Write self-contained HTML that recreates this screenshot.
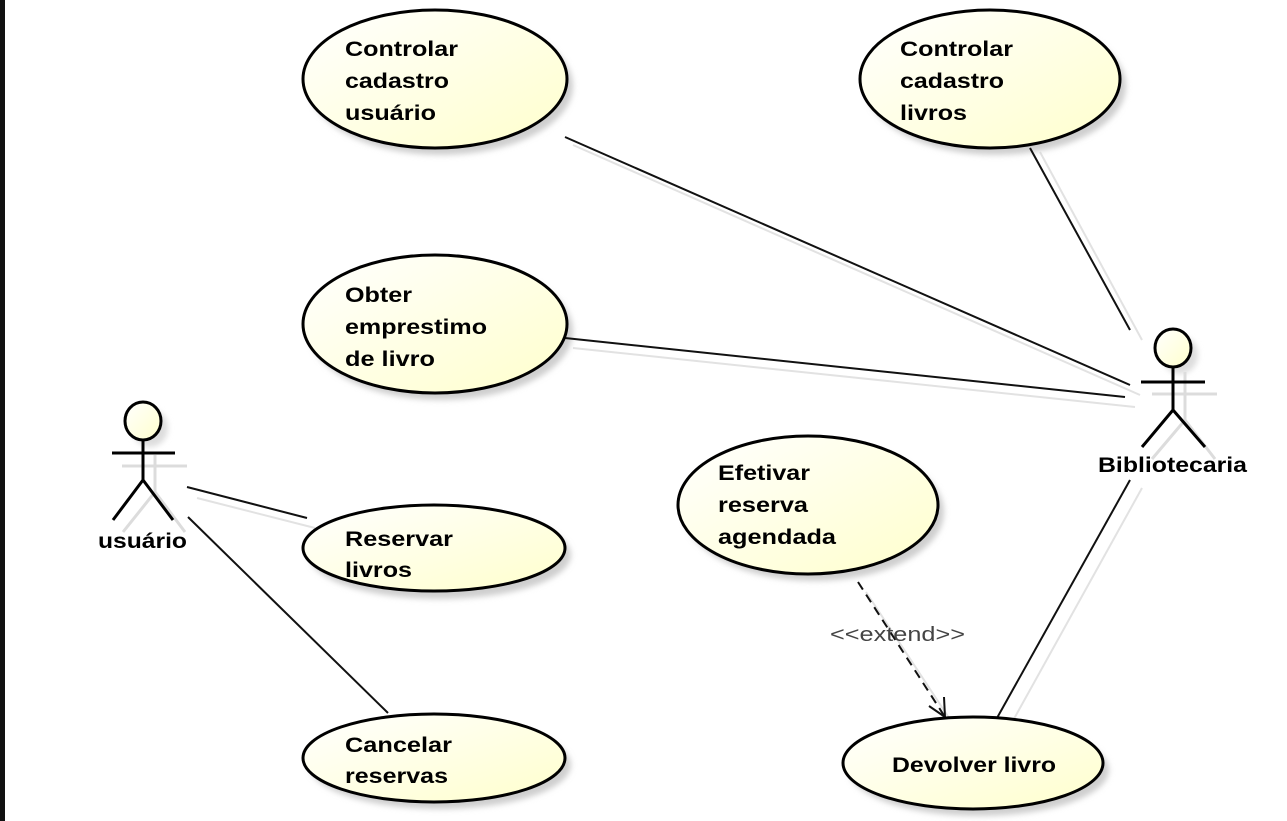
<!DOCTYPE html>
<html><head><meta charset="utf-8"><style>
html,body{margin:0;padding:0;background:#fff;}
svg{display:block;}
text{font-family:"Liberation Sans",Arial,sans-serif;}
</style></head><body>
<svg width="1287" height="821" viewBox="0 0 1287 821" xmlns="http://www.w3.org/2000/svg">
<defs>
<linearGradient id="g" x1="0" y1="0" x2="1" y2="1">
<stop offset="0" stop-color="#ffffff"/><stop offset="1" stop-color="#ffffcc"/>
</linearGradient>
<filter id="b" x="-20%" y="-20%" width="140%" height="140%"><feGaussianBlur stdDeviation="3"/></filter>
</defs>
<rect x="0" y="0" width="1287" height="821" fill="#fff"/>
<rect x="0" y="0" width="5" height="821" fill="#111"/>

<g stroke="#e2e2e2" stroke-width="2" fill="none">
<line x1="573" y1="145" x2="1140" y2="395"/>
<line x1="1040" y1="152" x2="1142" y2="340"/>
<line x1="573" y1="348" x2="1135" y2="407"/>
<line x1="197" y1="498" x2="315" y2="528"/>
<line x1="1142" y1="488" x2="1010" y2="726"/>
<line x1="866" y1="592" x2="955" y2="727"/>
</g>

<g fill="#cfcfcf" filter="url(#b)">
<ellipse cx="441" cy="86" rx="132" ry="69"/>
<ellipse cx="996" cy="86" rx="130" ry="69"/>
<ellipse cx="441" cy="331" rx="132" ry="69"/>
<ellipse cx="440" cy="555" rx="131" ry="44"/>
<ellipse cx="440" cy="765" rx="131" ry="44"/>
<ellipse cx="814" cy="512" rx="130" ry="69"/>
<ellipse cx="979" cy="770" rx="130" ry="46"/>
</g>

<g stroke="#111" stroke-width="2" fill="none">
<line x1="565" y1="137" x2="1130" y2="385"/>
<line x1="1030" y1="148" x2="1130" y2="330"/>
<line x1="565" y1="338" x2="1125" y2="397"/>
<line x1="187" y1="487" x2="307" y2="518"/>
<line x1="188" y1="517" x2="388" y2="713"/>
<line x1="1130" y1="480" x2="997" y2="718"/>
<line x1="858" y1="582" x2="945" y2="717" stroke-dasharray="9,6"/>
<polyline points="929,706 945,717 944,697"/>
</g>

<g fill="url(#g)" stroke="#000" stroke-width="3">
<ellipse cx="435" cy="79" rx="132" ry="69"/>
<ellipse cx="990" cy="79" rx="130" ry="69"/>
<ellipse cx="435" cy="324" rx="132" ry="69"/>
<ellipse cx="434" cy="548" rx="131" ry="43"/>
<ellipse cx="434" cy="758" rx="131" ry="44"/>
<ellipse cx="808" cy="505" rx="130" ry="69"/>
<ellipse cx="973" cy="763" rx="130" ry="46"/>
</g>

<g stroke="#dcdcdc" stroke-width="3" fill="none">
<line x1="122" y1="466" x2="187" y2="466"/>
<line x1="155" y1="455" x2="155" y2="492"/>
<polyline points="123,532 155,492 185,532"/>
<line x1="1152" y1="394" x2="1217" y2="394"/>
<line x1="1185" y1="372" x2="1185" y2="420"/>
<polyline points="1152,459 1185,420 1215,459"/>
</g>
<ellipse cx="150" cy="428" rx="18" ry="19" fill="#ddd" filter="url(#b)"/>
<ellipse cx="1180" cy="355" rx="18" ry="19" fill="#ddd" filter="url(#b)"/>

<g stroke="#000" stroke-width="3" fill="none">
<ellipse cx="143" cy="421" rx="18" ry="19" fill="url(#g)"/>
<line x1="112" y1="453" x2="175" y2="453"/>
<line x1="143" y1="440" x2="143" y2="480"/>
<polyline points="113,520 143,480 173,520"/>
<ellipse cx="1173" cy="348" rx="18" ry="19" fill="url(#g)"/>
<line x1="1141" y1="382" x2="1205" y2="382"/>
<line x1="1173" y1="367" x2="1173" y2="410"/>
<polyline points="1142,447 1173,410 1205,447"/>
</g>

<g font-size="21" font-weight="bold" fill="#000">
<text x="345" y="56" textLength="113" lengthAdjust="spacingAndGlyphs">Controlar</text>
<text x="345" y="88" textLength="104" lengthAdjust="spacingAndGlyphs">cadastro</text>
<text x="345" y="120" textLength="91" lengthAdjust="spacingAndGlyphs">usuário</text>
<text x="900" y="56" textLength="113" lengthAdjust="spacingAndGlyphs">Controlar</text>
<text x="900" y="88" textLength="104" lengthAdjust="spacingAndGlyphs">cadastro</text>
<text x="900" y="120" textLength="67" lengthAdjust="spacingAndGlyphs">livros</text>
<text x="345" y="302" textLength="67" lengthAdjust="spacingAndGlyphs">Obter</text>
<text x="345" y="334" textLength="142" lengthAdjust="spacingAndGlyphs">emprestimo</text>
<text x="345" y="366" textLength="90" lengthAdjust="spacingAndGlyphs">de livro</text>
<text x="345" y="546" textLength="108" lengthAdjust="spacingAndGlyphs">Reservar</text>
<text x="345" y="577" textLength="67" lengthAdjust="spacingAndGlyphs">livros</text>
<text x="345" y="752" textLength="107" lengthAdjust="spacingAndGlyphs">Cancelar</text>
<text x="345" y="783" textLength="103" lengthAdjust="spacingAndGlyphs">reservas</text>
<text x="718" y="480" textLength="92" lengthAdjust="spacingAndGlyphs">Efetivar</text>
<text x="718" y="512" textLength="90" lengthAdjust="spacingAndGlyphs">reserva</text>
<text x="718" y="544" textLength="118" lengthAdjust="spacingAndGlyphs">agendada</text>
<text x="892" y="772" textLength="164" lengthAdjust="spacingAndGlyphs">Devolver livro</text>
<text x="98" y="548" textLength="89" lengthAdjust="spacingAndGlyphs">usuário</text>
<text x="1098" y="472" textLength="149" lengthAdjust="spacingAndGlyphs">Bibliotecaria</text>
</g>
<text x="830" y="641" font-size="20" fill="#444" textLength="135" lengthAdjust="spacingAndGlyphs">&lt;&lt;extend&gt;&gt;</text>
</svg>
</body></html>
